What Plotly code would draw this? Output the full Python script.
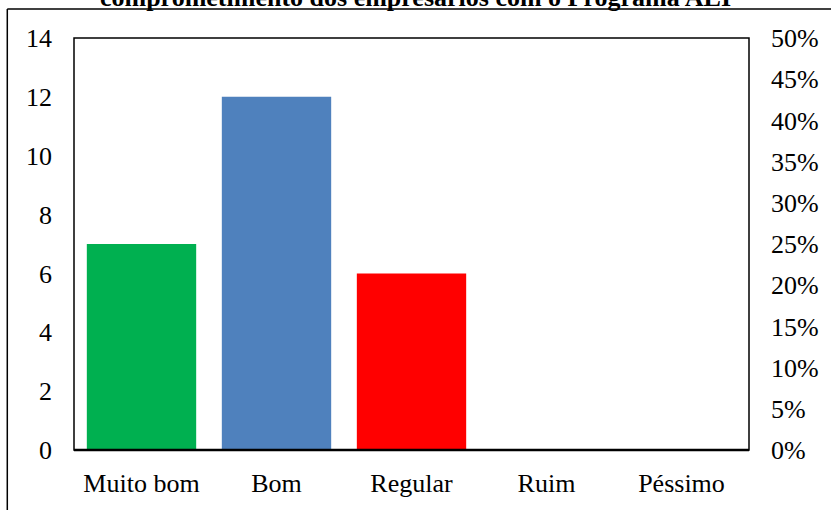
import plotly.graph_objects as go

categories = ["Muito bom", "Bom", "Regular", "Ruim", "Péssimo"]
counts = [7, 12, 6, 0, 0]
bar_colors = ["#00B050", "#4F81BD", "#FF0000", "#7F7F7F", "#7F7F7F"]
title_text = "comprometimento dos empresários com o Programa ALI"

FONT = "Liberation Serif, Times New Roman, serif"

fig = go.Figure()
fig.add_trace(go.Bar(
    x=categories, y=counts, marker=dict(color=bar_colors, line=dict(width=0)),
    showlegend=False, hoverinfo="x+y",
))
# invisible trace so the right-hand percentage axis is rendered
fig.add_trace(go.Scatter(
    x=categories, y=[None] * len(categories), yaxis="y2",
    mode="markers", showlegend=False, hoverinfo="skip",
))

W, H = 831, 510
L, R, T, B = 74, 79, 38, 59
pw, ph = W - L - R, H - T - B

fig.update_layout(
    width=W, height=H,
    margin=dict(l=L, r=R, t=T, b=B, pad=0),
    paper_bgcolor="white", plot_bgcolor="white",
    font=dict(family=FONT, size=26, color="black"),
    bargap=0.19,
    title=dict(text="<b>" + title_text + "</b>", x=0.5, xanchor="center",
               y=1 - 6 / H, yanchor="bottom", font=dict(size=26, family=FONT)),
    xaxis=dict(showgrid=False, showline=False, ticks="", zeroline=False,
               ticklabelstandoff=15, tickfont=dict(size=26)),
    yaxis=dict(range=[0, 14], dtick=2, showgrid=False, zeroline=False,
               showline=False, ticks="", ticklabelstandoff=21,
               tickfont=dict(size=26)),
    yaxis2=dict(range=[0, 0.5], dtick=0.05, tickformat=".0%", overlaying="y",
                side="right", showgrid=False, zeroline=False, showline=False,
                ticks="", ticklabelstandoff=21, tickfont=dict(size=26)),
)

# plot-area frame
fig.add_shape(type="rect", xref="paper", yref="paper", x0=0, y0=0, x1=1, y1=1,
              line=dict(color="black", width=1.5), layer="above")
fig.add_shape(type="line", xref="paper", yref="paper", x0=0, y0=0, x1=1, y1=0,
              line=dict(color="black", width=2.5), layer="above")

# outer chart-area border (top and left edges)
ox = (7 - L) / pw
oy = 1 + (T - 9) / ph
fig.add_shape(type="line", xref="paper", yref="paper", x0=ox, y0=oy,
              x1=(W + 5 - L) / pw, y1=oy, line=dict(color="black", width=1.5))
fig.add_shape(type="line", xref="paper", yref="paper", x0=ox, y0=oy,
              x1=ox, y1=-(B + 5) / ph, line=dict(color="black", width=1.5))

fig.write_html("out.html")
